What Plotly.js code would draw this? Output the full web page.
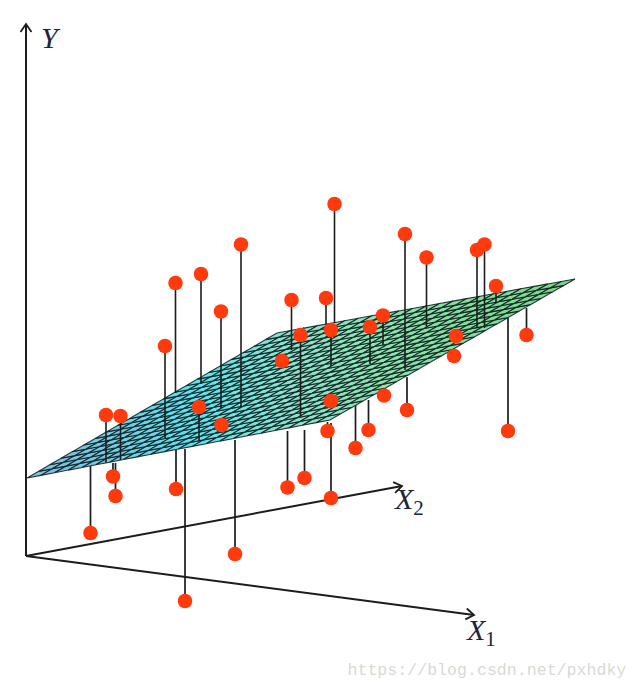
<!DOCTYPE html>
<html><head><meta charset="utf-8">
<script src="https://cdn.plot.ly/plotly-3.0.1.min.js"></script>
<style>html,body{margin:0;padding:0;background:#fff}#c{width:637px;height:691px}</style></head>
<body><div id="c"></div>
<script>
// Points above the plane: stem drawn over the plane
const aboveX   = [106,120.5,165,175.5,201,221,241,199,291.5,326,334.5,300.5,331,370,383,405,426.5,477,484.5,496];
const aboveY   = [415,416,346,283,274,311.5,244.5,407,300,298,204,335,330,327,315.5,234,257.5,250,244.5,286];
const aboveEnd = [463,460,438,393,384,408,407,441,350,325,323,416,366,364,345,370,327,328,328,303];
// Points below the plane: stem disappears behind the plane
const belowX   = [90.5,113,115.5,176,185,235,287.5,304.5,327.5,331,355.5,368.5,384,407,454,508,526.5];
const belowY   = [533,476.5,496,489,601,554,487.5,478,431,498,448,430,395.5,410,356,431,335];
const belowEnd = [466,463,463,450,449,440,431,430,422,423,405,400,385,377,347,318,308];
// Points sitting on the plane, no visible stem
const onX = [282,221.5,331,456];
const onY = [361,425,401,336];
// Plane corners and colour stops along the picture's x
const planeX = [27,277,575,330];
const planeY = [478,333,279,420];
const stopX = [27,120,200,290,380,575];
const stopRGB = [[130,190,222],[112,205,232],[92,228,240],[140,228,208],[140,228,176],[120,216,136]];
const meshCells = 22;
// Axes
const axisOrigin = [26,556];
const axisTips = {Y:[26,24],X1:[474,615],X2:[402,486]};
// Labels
const labelText = ['<i>Y</i>','<i>X</i><sub>2</sub>','<i>X</i><sub>1</sub>'];
const labelX = [41,395,467];
const labelY = [40,501,632];
const watermark = 'https://blog.csdn.net/pxhdky';

function colourAt(x){
  let i=0; while(i<stopX.length-2 && x>stopX[i+1]) i++;
  const t=Math.max(0,Math.min(1,(x-stopX[i])/(stopX[i+1]-stopX[i])));
  const c=stopRGB[i].map((v,k)=>Math.round(v+(stopRGB[i+1][k]-v)*t));
  return `rgb(${c.join(',')})`;
}
function bil(arr,u,v){return (1-u)*(1-v)*arr[0]+u*(1-v)*arr[1]+u*v*arr[2]+(1-u)*v*arr[3];}
function stems(xs,ys,ends,w){
  const X=[],Y=[];
  xs.forEach((x,i)=>{X.push(x,x,null);Y.push(ys[i],ends[i],null);});
  return {x:X,y:Y,mode:'lines',line:{color:'#1c1c1c',width:w},hoverinfo:'skip',showlegend:false};
}
const traces=[];
function arrow(tip){
  const dx=tip[0]-axisOrigin[0],dy=tip[1]-axisOrigin[1],L=Math.hypot(dx,dy),ux=dx/L,uy=dy/L,h=8,s=5.5;
  traces.push({x:[axisOrigin[0],tip[0]],y:[axisOrigin[1],tip[1]],mode:'lines',line:{color:'#1c1c1c',width:2},hoverinfo:'skip',showlegend:false});
  traces.push({x:[tip[0]-ux*h-uy*s,tip[0],tip[0]-ux*h+uy*s],y:[tip[1]-uy*h+ux*s,tip[1],tip[1]-uy*h-ux*s],mode:'lines',line:{color:'#1c1c1c',width:1.8},hoverinfo:'skip',showlegend:false});
}
arrow(axisTips.Y);arrow(axisTips.X1);arrow(axisTips.X2);
traces.push(stems(belowX,belowY,belowEnd,1.7));
const n=meshCells;
for(let i=0;i<n;i++)for(let j=0;j<n;j++){
  const p=[[i/n,j/n],[(i+1)/n,j/n],[(i+1)/n,(j+1)/n],[i/n,(j+1)/n],[i/n,j/n]];
  const xs=p.map(q=>bil(planeX,q[0],q[1])), ys=p.map(q=>bil(planeY,q[0],q[1]));
  traces.push({x:xs,y:ys,mode:'lines',fill:'toself',fillcolor:colourAt((xs[0]+xs[2])/2),
    line:{color:'rgba(15,30,30,0.88)',width:1.1},hoverinfo:'skip',showlegend:false});
}
traces.push(stems(aboveX,aboveY,aboveEnd,1.6));
traces.push({x:[...aboveX,...belowX,...onX],y:[...aboveY,...belowY,...onY],mode:'markers',
  marker:{color:'#ff3a0c',size:14.5,line:{width:0}},hoverinfo:'skip',showlegend:false});
traces.push({x:labelX,y:labelY,text:labelText,mode:'text',textposition:'middle right',
  textfont:{family:'"Liberation Serif","DejaVu Serif",serif',size:30,color:'#20243a'},hoverinfo:'skip',showlegend:false});
traces.push({x:[347.5],y:[671],text:[watermark],mode:'text',textposition:'middle right',
  textfont:{family:'"Liberation Mono",monospace',size:16.6,color:'#d9d9d4'},hoverinfo:'skip',showlegend:false});

const layout={width:637,height:691,margin:{l:0,r:0,t:0,b:0},paper_bgcolor:'#fff',plot_bgcolor:'#fff',showlegend:false,
  xaxis:{range:[0,637],visible:false,fixedrange:true},
  yaxis:{range:[691,0],visible:false,fixedrange:true}};
Plotly.newPlot('c',traces,layout,{displayModeBar:false});
</script></body></html>
